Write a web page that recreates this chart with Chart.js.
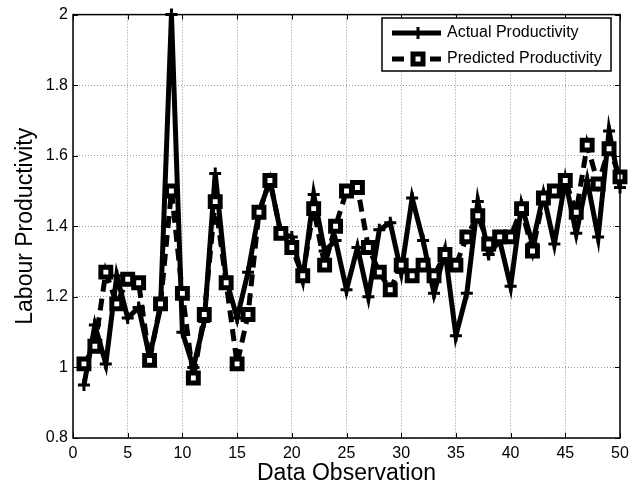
<!DOCTYPE html>
<html>
<head>
<meta charset="utf-8">
<script src="https://cdn.jsdelivr.net/npm/chart.js@4"></script>
<style>
html,body{margin:0;padding:0;background:#fff;}
#wrap{width:637px;height:490px;position:relative;}
</style>
</head>
<body>
<div id="wrap"><canvas id="c" width="637" height="490"></canvas></div>
<script>
const observations = [1,2,3,4,5,6,7,8,9,10,11,12,13,14,15,16,17,18,19,20,21,22,23,24,25,26,27,28,29,30,31,32,33,34,35,36,37,38,39,40,41,42,43,44,45,46,47,48,49,50];
const actualProductivity = [0.95,1.12,1.01,1.26,1.14,1.17,1.03,1.17,2.00,1.10,1.00,1.13,1.55,1.25,1.14,1.27,1.44,1.53,1.38,1.37,1.25,1.49,1.33,1.36,1.22,1.34,1.20,1.39,1.41,1.27,1.48,1.36,1.21,1.33,1.09,1.21,1.47,1.32,1.36,1.23,1.46,1.35,1.49,1.35,1.53,1.38,1.53,1.37,1.67,1.51];
const predictedProductivity = [1.01,1.06,1.27,1.18,1.25,1.24,1.02,1.18,1.50,1.21,0.97,1.15,1.47,1.24,1.01,1.15,1.44,1.53,1.38,1.34,1.26,1.45,1.29,1.40,1.50,1.51,1.34,1.27,1.22,1.29,1.26,1.29,1.26,1.32,1.29,1.37,1.43,1.35,1.37,1.37,1.45,1.33,1.48,1.50,1.53,1.44,1.63,1.52,1.62,1.54];
const seriesNames = ['Actual Productivity','Predicted Productivity'];
const xTitle = 'Data Observation';
const yTitle = 'Labour Productivity';

const FONT = '"Liberation Sans", Arial, sans-serif';

function pts(vals){ return observations.map((x,i)=>({x:x,y:vals[i]})); }

const boxPlugin = {
  id:'matlabBox',
  afterDraw(chart){
    const ctx = chart.ctx, a = chart.chartArea;
    const xs = chart.scales.x, ys = chart.scales.y;
    ctx.save();
    ctx.strokeStyle = '#000';
    ctx.lineWidth = 1.5;
    ctx.setLineDash([]);
    ctx.strokeRect(a.left, a.top, a.right-a.left, a.bottom-a.top);
    ctx.lineWidth = 1;
    const tl = 5;
    xs.ticks.forEach(t=>{
      const px = Math.round(xs.getPixelForValue(t.value))+0.5;
      ctx.beginPath();
      ctx.moveTo(px, a.bottom); ctx.lineTo(px, a.bottom - tl);
      ctx.moveTo(px, a.top); ctx.lineTo(px, a.top + tl);
      ctx.stroke();
    });
    ys.ticks.forEach(t=>{
      const py = Math.round(ys.getPixelForValue(t.value))+0.5;
      ctx.beginPath();
      ctx.moveTo(a.left, py); ctx.lineTo(a.left + tl, py);
      ctx.moveTo(a.right, py); ctx.lineTo(a.right - tl, py);
      ctx.stroke();
    });
    // legend
    const lx = 382, ly = 18, lw = 229, lh = 53;
    ctx.fillStyle = '#fff';
    ctx.fillRect(lx, ly, lw, lh);
    ctx.strokeStyle = '#000';
    ctx.lineWidth = 1.5;
    ctx.strokeRect(lx, ly, lw, lh);
    const rows = [ly+15, ly+41];
    const ds = chart.data.datasets;
    ctx.lineWidth = 5;
    ctx.setLineDash([]);
    ctx.beginPath(); ctx.moveTo(392, rows[0]); ctx.lineTo(441, rows[0]); ctx.stroke();
    ctx.lineWidth = 3;
    ctx.beginPath(); ctx.moveTo(418, rows[0]-6); ctx.lineTo(418, rows[0]+6); ctx.moveTo(412, rows[0]); ctx.lineTo(424, rows[0]); ctx.stroke();
    ctx.lineWidth = 5;
    ctx.setLineDash([12,7]);
    ctx.beginPath(); ctx.moveTo(392, rows[1]); ctx.lineTo(441, rows[1]); ctx.stroke();
    ctx.setLineDash([]);
    ctx.fillStyle = '#fff';
    ctx.lineWidth = 5;
    ctx.fillRect(413, rows[1]-5, 10, 10);
    ctx.strokeRect(413, rows[1]-5, 10, 10);
    ctx.fillStyle = '#000';
    ctx.font = '16px ' + FONT;
    ctx.textBaseline = 'middle';
    ctx.textAlign = 'left';
    ctx.fillText(ds[0].label, 447, rows[0]);
    ctx.fillText(ds[1].label, 447, rows[1]);
    ctx.restore();
  }
};

new Chart(document.getElementById('c'), {
  type:'line',
  data:{
    datasets:[
      {
        label: seriesNames[0],
        data: pts(actualProductivity),
        borderColor:'#000',
        backgroundColor:'#000',
        borderWidth:5,
        pointStyle:'cross',
        pointRadius:6,
        pointBorderWidth:3,
        pointBorderColor:'#000',
        tension:0,
        order:1,
        clip:false
      },
      {
        label: seriesNames[1],
        data: pts(predictedProductivity),
        borderColor:'#000',
        backgroundColor:'#fff',
        borderWidth:5,
        borderDash:[12,7],
        pointStyle:'rect',
        pointRadius:7,
        pointBorderWidth:5,
        pointBackgroundColor:'#fff',
        pointBorderColor:'#000',
        tension:0,
        order:0,
        clip:false
      }
    ]
  },
  options:{
    responsive:false,
    animation:false,
    devicePixelRatio:1,
    layout:{padding:{left:12,right:17,top:10,bottom:0}},
    plugins:{legend:{display:false},tooltip:{enabled:false},title:{display:false}},
    scales:{
      x:{
        type:'linear', min:0, max:50,
        afterFit(s){ s.height = 52; },
        ticks:{stepSize:5, color:'#000', font:{family:FONT,size:16}, padding:6, maxRotation:0},
        grid:{color:'#999', lineWidth:1, drawTicks:false},
        border:{display:false, dash:[1,2]},
        title:{display:true, text:xTitle, color:'#000', font:{family:FONT,size:23}, padding:{top:0,bottom:3}}
      },
      y:{
        type:'linear', min:0.8, max:2,
        afterFit(s){ s.width = 61; },
        ticks:{stepSize:0.2, color:'#000', font:{family:FONT,size:16}, padding:5,
          callback:(v)=>String(+(+v).toFixed(1))},
        grid:{color:'#999', lineWidth:1, drawTicks:false},
        border:{display:false, dash:[1,2]},
        title:{display:true, text:yTitle, color:'#000', font:{family:FONT,size:23}, padding:{top:0,bottom:4}}
      }
    }
  },
  plugins:[boxPlugin]
});
</script>
</body>
</html>
